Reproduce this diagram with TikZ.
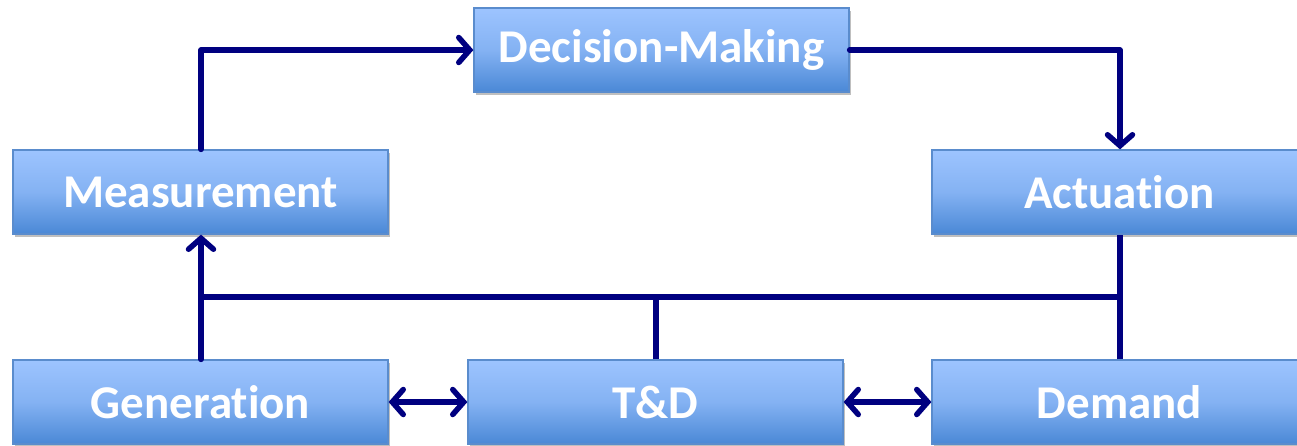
\documentclass[tikz,border=0pt]{standalone}
\usepackage{fontspec}
\setmainfont{Carlito}[Ligatures=NoCommon]
\usetikzlibrary{arrows.meta,shadows,positioning}
\definecolor{linec}{RGB}{0,0,128}
\definecolor{boxtop}{RGB}{157,196,255}
\definecolor{boxbot}{RGB}{74,136,214}
\definecolor{boxedge}{RGB}{90,140,205}
\tikzset{
  blk/.style={draw=boxedge, line width=1.2pt, top color=boxtop, bottom color=boxbot,
    middle color=boxtop!70!boxbot,
    minimum width=375pt, minimum height=84pt, inner sep=0pt,
    text=white, font=\bfseries\fontsize{47}{47}\selectfont,
    drop shadow={shadow xshift=2pt, shadow yshift=-3pt, fill=black, opacity=0.25}},
  conn/.style={draw=linec, line width=5.5pt, line cap=round, line join=round},
  barb/.style={Straight Barb[length=11pt, width=25pt, line width=5.5pt, line cap=round]},
  tip/.style={-{Straight Barb[length=11pt, width=25pt, line width=5.5pt, line cap=round]}},
  dtip/.style={{Straight Barb[length=11pt, width=25pt, line width=5.5pt, line cap=round]}-{Straight Barb[length=11pt, width=25pt, line width=5.5pt, line cap=round]}},
}
\begin{document}
\begin{tikzpicture}[x=1pt,y=-1pt]
\useasboundingbox (0,0) rectangle (1297,445);
\begin{scope}
\clip (0,0) rectangle (1297,445);
\node[blk] (dec) at (661.5,50) {Decision-Making};
\node[blk] (mea) at (200.5,192) {Measurement};
\node[blk] (act) at (1119.5,192) {Actuation};
\node[blk] (gen) at (200.5,402) {Generation};
\node[blk] (td) at (655.5,402) {T\&D};
\node[blk] (dem) at (1119.5,402) {Demand};
\end{scope}
\coordinate (bl) at (201,297);
\coordinate (bm) at (656,297);
\coordinate (br) at (1120,297);
\draw[conn, tip] (mea.north -| 201,0) |- (dec.west);
\draw[conn, tip] (dec.east) -| (act.north -| 1120,0);
\draw[conn, tip] (gen.north -| 201,0) -- (mea.south -| 201,0);
\draw[conn, line cap=butt] (bl) -- (br);
\draw[conn, line cap=butt] (td.north -| bm) -- (bm);
\draw[conn, line cap=butt] (dem.north -| br) -- (act.south -| br);
\draw[conn, dtip] (gen.east) -- (td.west);
\draw[conn, dtip] (td.east) -- (dem.west);
\end{tikzpicture}
\end{document}
